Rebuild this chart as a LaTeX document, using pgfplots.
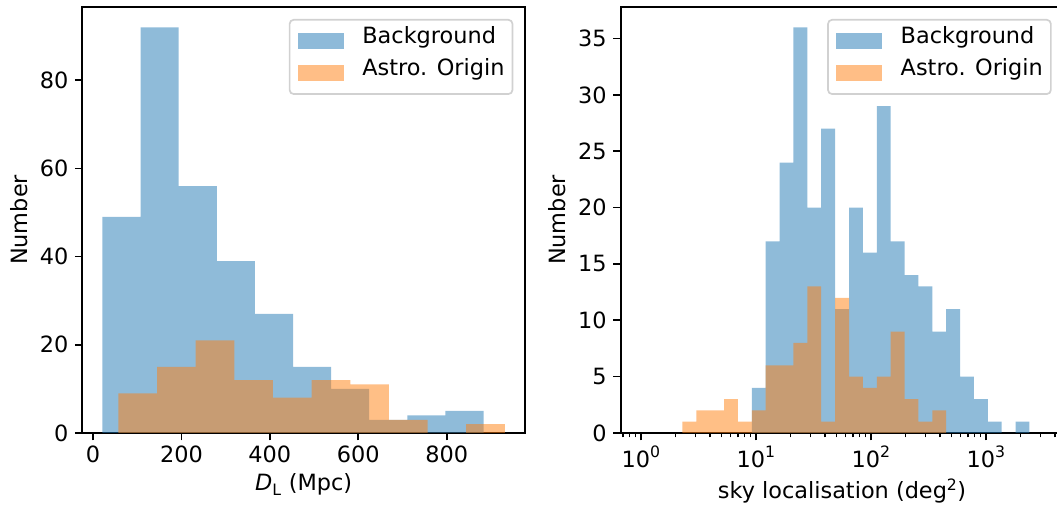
\documentclass[border=0pt]{standalone}
\usepackage{fontspec}
\setmainfont{DejaVu Sans}
\usepackage{pgfplots}
\pgfplotsset{compat=1.18}
\definecolor{c0}{HTML}{1F77B4}
\definecolor{c1}{HTML}{FF7F0E}
\newcommand\mplfont{\fontsize{22.4}{26.9}\selectfont}
\newcommand\sups[1]{\raisebox{0.45em}{\fontsize{15.7}{15.7}\selectfont #1}}

\pgfplotsset{
  mplhist/.style={
    scale only axis, width=442.7pt, height=426pt,
    anchor=south west,
    axis line style={line width=1.7pt},
    tick align=outside, xtick pos=bottom, ytick pos=left,
    major tick length=7.5pt, minor tick length=4.3pt,
    major tick style={line width=1.7pt, black},
    minor tick style={line width=1.3pt, black},
    tick label style={font=\mplfont},
    xticklabel style={yshift=-2pt},
    yticklabel style={xshift=-3pt},
    label style={font=\mplfont},
    xlabel style={yshift=-4pt},
    ylabel style={yshift=5pt},
    /pgf/number format/assume math mode=true,
    ymin=0, ylabel={Number},
    legend cell align=left,
    legend style={at={(1,1)}, anchor=north east, xshift=-11.7pt, yshift=-12pt,
      draw=black!18, line width=1.7pt, rounded corners=4pt, font=\mplfont,
      inner xsep=8pt, inner ysep=13.5pt, row sep=16pt, column sep=18.7pt,
      nodes={inner sep=0pt, text height=0.75em, text depth=0.25em}},
    legend image code/.code={\fill[sharp corners, ##1] (0pt,-7.8pt) rectangle (46pt,7.8pt);},
  },
  bg/.style={const plot, fill=c0, fill opacity=0.5, draw=none},
  ao/.style={const plot, fill=c1, fill opacity=0.5, draw=none},
}

\begin{document}
\begin{tikzpicture}
\path[use as bounding box, clip] (0pt,0pt) rectangle (1057pt,505pt);

% luminosity distance
\begin{axis}[mplhist, at={(82.3pt,72pt)},
    xmin=-24.4, xmax=977.3, ymax=96.6,
    xtick={0,200,400,600,800}, ytick={0,20,40,60,80},
    xlabel={{\itshape D}\textsubscript{L} (Mpc)}]
\addplot[bg] coordinates {(21.1,49)(107.35,92)(193.6,56)(279.85,39)(366.1,27)(452.35,15)(538.6,10)(624.85,3)(711.1,4)(797.35,5)(883.6,5)} \closedcycle;
\addlegendentry{Background}
\addplot[ao] coordinates {(57.2,9)(144.66,15)(232.12,21)(319.58,12)(407.04,8)(494.5,12)(581.96,11)(669.42,3)(756.88,0)(844.34,2)(931.8,2)} \closedcycle;
\addlegendentry{Astro. Origin}
\end{axis}

% sky localisation, log bins
\begin{axis}[mplhist, at={(620.7pt,72pt)}, xmode=log,
    xmin=0.668, xmax=4732, ymax=37.8,
    xtick={1,10,100,1000},
    xticklabels={10\sups{0},10\sups{1},10\sups{2},10\sups{3}},
    minor xtick={0.7,0.8,0.9,2,3,4,5,6,7,8,9,20,30,40,50,60,70,80,90,200,300,400,500,600,700,800,900,2000,3000,4000},
    ytick={0,5,10,15,20,25,30,35},
    xlabel={sky localisation (deg\textsuperscript{2})}]
\addplot[bg] coordinates {(9.237,4)(12.196,17)(16.103,24)(21.261,36)(28.072,20)(37.066,27)(48.939,11)(64.616,20)(85.32,16)(112.65,29)(148.73,17)(196.38,14)(259.3,13)(342.3,9)(451.9,11)(596.7,5)(787.9,3)(1040.5,1)(1373.8,0)(1813.9,1)(2394.6,1)} \closedcycle;
\addlegendentry{Background}
\addplot[ao] coordinates {(2.3018,1)(3.0394,2)(4.0125,2)(5.2983,3)(6.9957,1)(9.237,2)(12.196,6)(16.103,6)(21.261,8)(28.072,13)(37.066,1)(48.939,12)(64.616,5)(85.32,4)(112.65,5)(148.73,9)(196.38,3)(259.3,1)(342.3,2)(451.9,2)} \closedcycle;
\addlegendentry{Astro. Origin}
\end{axis}
\end{tikzpicture}
\end{document}
